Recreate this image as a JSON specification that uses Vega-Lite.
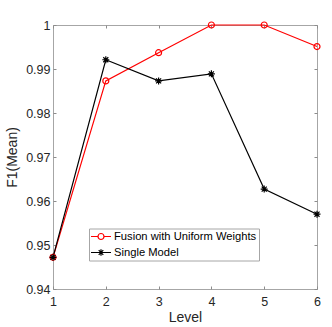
{
  "$schema": "https://vega.github.io/schema/vega-lite/v6.json",
  "width": 264,
  "height": 264,
  "autosize": {"type": "none"},
  "padding": {"left": 53, "top": 25, "right": 15, "bottom": 38},
  "background": "white",
  "config": {
    "view": {"stroke": "#a6a6a6", "strokeWidth": 1},
    "font": "Liberation Sans",
    "axis": {
      "grid": false,
      "domain": false,
      "tickColor": "#8c8c8c",
      "tickSize": -3,
      "labelColor": "#262626",
      "titleColor": "#262626",
      "labelFont": "Liberation Sans",
      "titleFont": "Liberation Sans",
      "labelFontSize": 12.5,
      "titleFontSize": 14,
      "titleFontWeight": "normal"
    }
  },
  "data": {
    "values": [
      {"level": 1, "f1": 0.9472, "series": "Fusion with Uniform Weights"},
      {"level": 2, "f1": 0.9873, "series": "Fusion with Uniform Weights"},
      {"level": 3, "f1": 0.9937, "series": "Fusion with Uniform Weights"},
      {"level": 4, "f1": 1.0, "series": "Fusion with Uniform Weights"},
      {"level": 5, "f1": 1.0, "series": "Fusion with Uniform Weights"},
      {"level": 6, "f1": 0.9951, "series": "Fusion with Uniform Weights"},
      {"level": 1, "f1": 0.9472, "series": "Single Model"},
      {"level": 2, "f1": 0.9921, "series": "Single Model"},
      {"level": 3, "f1": 0.9873, "series": "Single Model"},
      {"level": 4, "f1": 0.9889, "series": "Single Model"},
      {"level": 5, "f1": 0.9627, "series": "Single Model"},
      {"level": 6, "f1": 0.9570, "series": "Single Model"}
    ]
  },
  "layer": [
    {
      "mark": {"type": "line", "strokeWidth": 1.2},
      "encoding": {
        "x": {"field": "level", "type": "quantitative", "scale": {"domain": [1, 6], "nice": false, "zero": false}, "axis": {"title": "Level", "values": [1, 2, 3, 4, 5, 6], "labelPadding": 9, "titlePadding": 3, "labelFlush": false}},
        "y": {"field": "f1", "type": "quantitative", "scale": {"domain": [0.94, 1], "nice": false, "zero": false}, "axis": {"title": "F1(Mean)", "values": [0.94, 0.95, 0.96, 0.97, 0.98, 0.99, 1], "format": "~g", "labelPadding": 6, "titlePadding": 6, "labelFlush": false}},
        "color": {
          "field": "series", "type": "nominal",
          "scale": {"domain": ["Fusion with Uniform Weights", "Single Model"], "range": ["#ff0000", "#000000"]},
          "legend": {
            "title": null,
            "orient": "none",
            "legendX": 36,
            "legendY": 203.5,
            "symbolSize": 100,
            "symbolStrokeWidth": 1.2,
            "labelFontSize": 11.2,
            "labelFont": "Liberation Sans",
            "labelColor": "#000000",
            "labelOffset": 7,
            "rowPadding": 4,
            "padding": 2,
            "symbolOffset": 4,
            "strokeColor": "#a6a6a6",
            "fillColor": "white",
            "encode": {"symbols": {"update": {
              "shape": {"signal": "datum.value === 'Single Model' ? 'M-2,0L2,0M0,-0.65L0,0.65M-0.46,-0.46L0.46,0.46M-0.46,0.46L0.46,-0.46' : 'M-2,0L-0.6,0M0.6,0L2,0M-0.6,0A0.6,0.6 0 1,0 0.6,0A0.6,0.6 0 1,0 -0.6,0'"},
              "fill": {"value": "transparent"},
              "size": {"value": 100},
              "strokeWidth": {"value": 1.2}
            }}}
          }
        }
      }
    },
    {
      "mark": {"type": "line", "strokeWidth": 0, "opacity": 0},
      "encoding": {
        "x": {"field": "level", "type": "quantitative", "axis": {"orient": "top", "title": null, "labels": false, "values": [1, 2, 3, 4, 5, 6]}},
        "y": {"field": "f1", "type": "quantitative", "axis": {"orient": "right", "title": null, "labels": false, "values": [0.94, 0.95, 0.96, 0.97, 0.98, 0.99, 1]}}
      }
    },
    {
      "transform": [{"filter": "datum.series === 'Fusion with Uniform Weights'"}],
      "mark": {"type": "point", "shape": "circle", "size": 36, "filled": false, "strokeWidth": 1.2, "opacity": 1, "color": "#ff0000"},
      "encoding": {
        "x": {"field": "level", "type": "quantitative", "axis": null},
        "y": {"field": "f1", "type": "quantitative", "axis": null}
      }
    },
    {
      "transform": [{"filter": "datum.series === 'Single Model'"}],
      "mark": {"type": "point", "shape": "M-1,0L1,0M0,-1L0,1M-0.72,-0.72L0.72,0.72M-0.72,0.72L0.72,-0.72", "size": 49, "filled": false, "strokeWidth": 1.2, "opacity": 1, "color": "#000000"},
      "encoding": {
        "x": {"field": "level", "type": "quantitative", "axis": null},
        "y": {"field": "f1", "type": "quantitative", "axis": null}
      }
    }
  ],
  "resolve": {"axis": {"x": "independent", "y": "independent"}}
}
